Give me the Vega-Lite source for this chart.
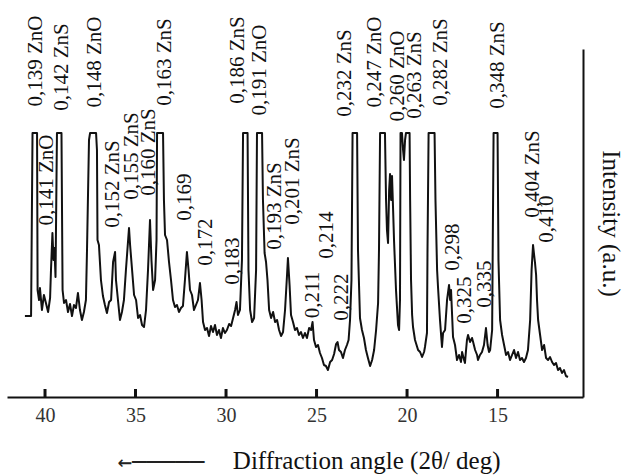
{
"$schema": "https://vega.github.io/schema/vega-lite/v6.json",
"width": 576, "height": 348,
"autosize": {"type": "none"},
"padding": {"left": 7, "top": 49, "right": 41, "bottom": 78},
"background": "white",
"config": {"view": {"stroke": null}},
"resolve": {"axis": {"x": "independent"}},
"datasets": {
"curve": [
{"a":41.11,"I":81},{"a":40.77,"I":81},{"a":40.69,"I":264},{"a":40.44,"I":264},{"a":40.41,"I":107},{"a":40.33,"I":97},{"a":40.28,"I":109},{"a":40.17,"I":87},{"a":40.06,"I":102},{"a":39.95,"I":94},{"a":39.83,"I":85},{"a":39.72,"I":99},{"a":39.67,"I":127},{"a":39.59,"I":164},{"a":39.53,"I":137},{"a":39.48,"I":149},{"a":39.42,"I":120},{"a":39.34,"I":264},{"a":39.09,"I":264},{"a":39.03,"I":107},{"a":38.95,"I":94},{"a":38.84,"I":97},{"a":38.73,"I":85},{"a":38.62,"I":93},{"a":38.51,"I":81},{"a":38.40,"I":92},{"a":38.29,"I":89},{"a":38.18,"I":104},{"a":38.07,"I":87},{"a":37.96,"I":77},{"a":37.85,"I":85},{"a":37.74,"I":97},{"a":37.68,"I":147},{"a":37.57,"I":257},{"a":37.51,"I":264},{"a":37.18,"I":264},{"a":37.13,"I":247},{"a":37.10,"I":157},{"a":37.02,"I":152},{"a":36.91,"I":117},{"a":36.80,"I":101},{"a":36.69,"I":92},{"a":36.58,"I":84},{"a":36.46,"I":95},{"a":36.35,"I":97},{"a":36.24,"I":135},{"a":36.13,"I":145},{"a":36.08,"I":117},{"a":35.97,"I":97},{"a":35.86,"I":77},{"a":35.75,"I":85},{"a":35.64,"I":97},{"a":35.53,"I":127},{"a":35.36,"I":169},{"a":35.30,"I":152},{"a":35.19,"I":127},{"a":35.08,"I":102},{"a":34.97,"I":97},{"a":34.86,"I":79},{"a":34.75,"I":82},{"a":34.64,"I":72},{"a":34.53,"I":70},{"a":34.42,"I":87},{"a":34.31,"I":127},{"a":34.20,"I":177},{"a":34.12,"I":137},{"a":34.03,"I":107},{"a":33.92,"I":117},{"a":33.84,"I":157},{"a":33.81,"I":264},{"a":33.48,"I":264},{"a":33.43,"I":197},{"a":33.37,"I":162},{"a":33.26,"I":157},{"a":33.15,"I":135},{"a":33.04,"I":117},{"a":32.93,"I":97},{"a":32.82,"I":90},{"a":32.71,"I":92},{"a":32.60,"I":85},{"a":32.49,"I":89},{"a":32.38,"I":91},{"a":32.27,"I":117},{"a":32.16,"I":145},{"a":32.07,"I":127},{"a":31.99,"I":107},{"a":31.88,"I":102},{"a":31.77,"I":87},{"a":31.66,"I":92},{"a":31.55,"I":97},{"a":31.44,"I":114},{"a":31.35,"I":97},{"a":31.27,"I":75},{"a":31.16,"I":67},{"a":31.05,"I":69},{"a":30.94,"I":61},{"a":30.83,"I":71},{"a":30.72,"I":65},{"a":30.61,"I":72},{"a":30.50,"I":62},{"a":30.39,"I":67},{"a":30.28,"I":59},{"a":30.17,"I":69},{"a":30.06,"I":64},{"a":29.95,"I":67},{"a":29.83,"I":73},{"a":29.72,"I":71},{"a":29.61,"I":79},{"a":29.50,"I":87},{"a":29.42,"I":95},{"a":29.34,"I":82},{"a":29.23,"I":87},{"a":29.12,"I":137},{"a":29.06,"I":264},{"a":28.81,"I":264},{"a":28.76,"I":127},{"a":28.67,"I":87},{"a":28.56,"I":75},{"a":28.45,"I":79},{"a":28.34,"I":127},{"a":28.29,"I":264},{"a":28.01,"I":264},{"a":27.96,"I":197},{"a":27.87,"I":144},{"a":27.79,"I":135},{"a":27.71,"I":117},{"a":27.62,"I":87},{"a":27.51,"I":79},{"a":27.40,"I":85},{"a":27.29,"I":75},{"a":27.18,"I":77},{"a":27.07,"I":67},{"a":26.96,"I":61},{"a":26.85,"I":65},{"a":26.74,"I":87},{"a":26.63,"I":122},{"a":26.58,"I":139},{"a":26.49,"I":112},{"a":26.41,"I":82},{"a":26.30,"I":75},{"a":26.19,"I":67},{"a":26.08,"I":69},{"a":25.97,"I":62},{"a":25.86,"I":65},{"a":25.75,"I":59},{"a":25.64,"I":64},{"a":25.53,"I":59},{"a":25.41,"I":69},{"a":25.30,"I":67},{"a":25.22,"I":75},{"a":25.14,"I":57},{"a":25.03,"I":50},{"a":24.92,"I":52},{"a":24.81,"I":44},{"a":24.70,"I":39},{"a":24.59,"I":32},{"a":24.48,"I":31},{"a":24.37,"I":27},{"a":24.25,"I":35},{"a":24.14,"I":37},{"a":24.03,"I":43},{"a":23.92,"I":53},{"a":23.84,"I":55},{"a":23.76,"I":47},{"a":23.65,"I":45},{"a":23.54,"I":39},{"a":23.43,"I":47},{"a":23.32,"I":52},{"a":23.23,"I":57},{"a":23.15,"I":77},{"a":23.07,"I":117},{"a":23.01,"I":264},{"a":22.76,"I":264},{"a":22.71,"I":147},{"a":22.60,"I":79},{"a":22.49,"I":67},{"a":22.38,"I":59},{"a":22.27,"I":47},{"a":22.16,"I":39},{"a":22.04,"I":31},{"a":21.93,"I":37},{"a":21.82,"I":47},{"a":21.71,"I":67},{"a":21.60,"I":94},{"a":21.55,"I":147},{"a":21.49,"I":264},{"a":21.22,"I":264},{"a":21.16,"I":197},{"a":21.11,"I":167},{"a":21.05,"I":154},{"a":20.99,"I":207},{"a":20.94,"I":223},{"a":20.88,"I":197},{"a":20.83,"I":221},{"a":20.77,"I":187},{"a":20.72,"I":157},{"a":20.61,"I":107},{"a":20.50,"I":72},{"a":20.44,"I":67},{"a":20.39,"I":97},{"a":20.36,"I":264},{"a":20.28,"I":264},{"a":20.22,"I":247},{"a":20.17,"I":237},{"a":20.11,"I":257},{"a":20.06,"I":264},{"a":19.86,"I":264},{"a":19.83,"I":197},{"a":19.78,"I":117},{"a":19.72,"I":82},{"a":19.67,"I":70},{"a":19.56,"I":57},{"a":19.39,"I":47},{"a":19.28,"I":45},{"a":19.17,"I":40},{"a":19.06,"I":45},{"a":19.01,"I":50},{"a":18.90,"I":64},{"a":18.87,"I":147},{"a":18.81,"I":264},{"a":18.48,"I":264},{"a":18.43,"I":197},{"a":18.34,"I":127},{"a":18.29,"I":110},{"a":18.18,"I":77},{"a":18.07,"I":50},{"a":18.01,"I":64},{"a":17.90,"I":67},{"a":17.79,"I":97},{"a":17.68,"I":112},{"a":17.62,"I":97},{"a":17.57,"I":107},{"a":17.46,"I":60},{"a":17.35,"I":52},{"a":17.24,"I":37},{"a":17.13,"I":42},{"a":17.02,"I":35},{"a":16.96,"I":45},{"a":16.85,"I":37},{"a":16.80,"I":34},{"a":16.74,"I":47},{"a":16.69,"I":57},{"a":16.63,"I":62},{"a":16.52,"I":55},{"a":16.41,"I":59},{"a":16.35,"I":55},{"a":16.24,"I":47},{"a":16.13,"I":42},{"a":16.08,"I":37},{"a":15.97,"I":42},{"a":15.86,"I":45},{"a":15.75,"I":52},{"a":15.64,"I":69},{"a":15.55,"I":52},{"a":15.47,"I":45},{"a":15.41,"I":47},{"a":15.30,"I":67},{"a":15.22,"I":264},{"a":15.00,"I":264},{"a":14.95,"I":137},{"a":14.86,"I":77},{"a":14.75,"I":62},{"a":14.64,"I":52},{"a":14.53,"I":42},{"a":14.42,"I":45},{"a":14.31,"I":37},{"a":14.20,"I":42},{"a":14.09,"I":47},{"a":13.98,"I":39},{"a":13.87,"I":45},{"a":13.76,"I":37},{"a":13.65,"I":39},{"a":13.54,"I":35},{"a":13.43,"I":39},{"a":13.32,"I":47},{"a":13.20,"I":77},{"a":13.12,"I":127},{"a":13.04,"I":152},{"a":12.98,"I":142},{"a":12.93,"I":134},{"a":12.87,"I":122},{"a":12.82,"I":97},{"a":12.76,"I":77},{"a":12.65,"I":62},{"a":12.54,"I":47},{"a":12.43,"I":52},{"a":12.32,"I":39},{"a":12.21,"I":37},{"a":12.10,"I":40},{"a":11.99,"I":35},{"a":11.88,"I":32},{"a":11.77,"I":34},{"a":11.66,"I":27},{"a":11.55,"I":29},{"a":11.44,"I":24},{"a":11.33,"I":27},{"a":11.22,"I":21},{"a":11.11,"I":20}
],
"labels": [
{"a":40.50,"I":336,"t":"0,139 ZnO"},
{"a":39.06,"I":330,"t":"0,142 ZnS"},
{"a":37.24,"I":335,"t":"0,148 ZnO"},
{"a":33.37,"I":335,"t":"0,163 ZnS"},
{"a":29.34,"I":337,"t":"0,186 ZnS"},
{"a":28.12,"I":327,"t":"0,191 ZnO"},
{"a":23.43,"I":324,"t":"0,232 ZnS"},
{"a":21.77,"I":335,"t":"0,247 ZnO"},
{"a":20.50,"I":321,"t":"0,260 ZnO"},
{"a":19.56,"I":322,"t":"0,263 ZnS"},
{"a":18.12,"I":335,"t":"0,282 ZnS"},
{"a":14.97,"I":332,"t":"0,348 ZnS"},
{"a":39.89,"I":217,"t":"0,141 ZnO"},
{"a":36.24,"I":213,"t":"0,152 ZnS"},
{"a":35.19,"I":241,"t":"0,155 ZnS"},
{"a":34.25,"I":245,"t":"0,160 ZnS"},
{"a":32.27,"I":200,"t":"0,169"},
{"a":31.11,"I":155,"t":"0,172"},
{"a":29.61,"I":136,"t":"0,183"},
{"a":27.29,"I":191,"t":"0,193 ZnS"},
{"a":26.30,"I":216,"t":"0,201 ZnS"},
{"a":25.19,"I":102,"t":"0,211"},
{"a":24.42,"I":162,"t":"0,214"},
{"a":23.59,"I":100,"t":"0,222"},
{"a":17.46,"I":150,"t":"0,298"},
{"a":16.80,"I":97,"t":"0,325"},
{"a":15.69,"I":113,"t":"0,335"},
{"a":13.04,"I":223,"t":"0,404 ZnS"},
{"a":12.27,"I":178,"t":"0,410"}
],
"tickpos": [{"a": 40, "lo": 0, "hi": 8}, {"a": 35, "lo": 0, "hi": 8}, {"a": 30, "lo": 0, "hi": 8}, {"a": 25, "lo": 0, "hi": 8}, {"a": 20, "lo": 0, "hi": 8}, {"a": 15, "lo": 0, "hi": 8}]
},
"layer": [
{
"data": {"name": "curve"},
"mark": {"type": "line", "color": "#111", "strokeWidth": 2, "strokeJoin": "round", "clip": false},
"encoding": {
"x": {"field": "a", "type": "quantitative",
"scale": {"domain": [42.1, 10.28], "nice": false, "zero": false},
"axis": {"orient": "bottom", "values": [40, 35, 30, 25, 20, 15], "grid": false,
"ticks": false,
"domainColor": "#111", "domainWidth": 2,
"labelFont": "Liberation Serif", "labelFontSize": 20, "labelColor": "#333",
"labelPadding": 8, "labelBaseline": "top",
"title": "Diffraction angle (2θ/ deg)",
"titleFont": "Liberation Serif", "titleFontSize": 25, "titleFontWeight": "normal", "titleColor": "#111",
"titleAlign": "right", "titleBaseline": "alphabetic", "titleX": 493, "titleY": 71}},
"y": {"field": "I", "type": "quantitative",
"scale": {"domain": [0, 348], "nice": false},
"axis": {"orient": "right", "ticks": false, "labels": false, "grid": false,
"domainColor": "#111", "domainWidth": 2,
"title": "Intensity (a.u.)",
"titleFont": "Liberation Serif", "titleFontSize": 25, "titleFontWeight": "normal", "titleColor": "#111",
"titleAngle": 90, "titleX": 27, "titleY": 174, "titleAlign": "center", "titleBaseline": "middle"}}
}
},
{
"data": {"name": "labels"},
"mark": {"type": "text", "font": "Liberation Serif", "fontSize": 21, "angle": 270, "align": "center", "baseline": "middle", "color": "#111", "clip": false},
"encoding": {
"x": {"field": "a", "type": "quantitative", "axis": null},
"y": {"field": "I", "type": "quantitative"},
"text": {"field": "t", "type": "nominal"}
}
},
{
"data": {"name": "tickpos"},
"mark": {"type": "rule", "color": "#111", "strokeWidth": 3, "clip": false},
"encoding": {
"x": {"field": "a", "type": "quantitative",
"axis": {"orient": "top", "offset": -348, "grid": false,
"domain": false, "labels": false, "ticks": false,
"title": "←─────",
"titleFont": "DejaVu Sans Mono", "titleFontSize": 24, "titleFontWeight": "normal", "titleColor": "#222",
"titleAlign": "left", "titleBaseline": "alphabetic", "titleX": 110, "titleY": 72}},
"y": {"field": "lo", "type": "quantitative"},
"y2": {"field": "hi"}
}
}
]
}
